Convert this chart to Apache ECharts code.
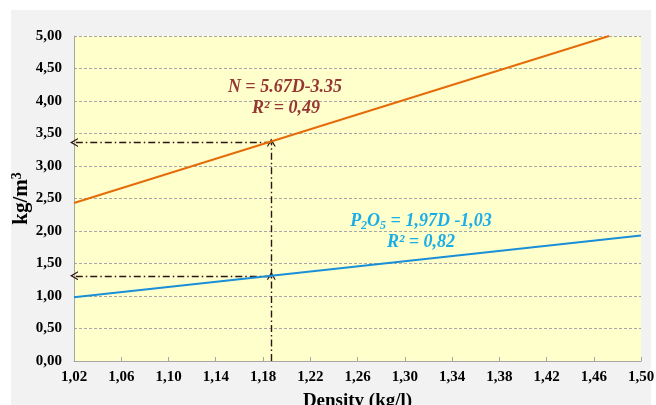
<!DOCTYPE html>
<html><head><meta charset="utf-8">
<script src="https://cdn.jsdelivr.net/npm/echarts@6/dist/echarts.min.js"></script>
<style>html,body{margin:0;padding:0;background:#fff}#c{width:656px;height:405px}</style>
</head><body><div id="c"></div>
<script>
// Data
const nLine = [[1.02, 2.43], [1.473, 5.00]];      // N = 5.67D - 3.35
const pLine = [[1.02, 0.98], [1.50, 1.93]];      // P2O5 = 1.97D - 1.03
const readD = 1.187;                             // density read-off
const readN = 3.36;
const readP = 1.31;
const xMin = 1.02, xMax = 1.50, xStep = 0.04;
const yMin = 0, yMax = 5, yStep = 0.5;

const font = '"Liberation Serif", "Times New Roman", serif';
const fmt = v => v.toFixed(2).replace('.', ',');
const chev = 'path://M0,10 L5,0 L10,10 L8.6,10 L5,3.2 L1.4,10 Z';

const chart = echarts.init(document.getElementById('c'), null, {renderer: 'canvas'});
chart.setOption({
  backgroundColor: '#ffffff',
  animation: false,
  graphic: [{
    type: 'rect', z: -10, silent: true,
    shape: {x: 11, y: 10, width: 640, height: 400},
    style: {fill: '#F2F2F2'}
  }, {
    type: 'text', z: 100,
    style: {text: 'N = 5.67D-3.35', x: 285, y: 87, align: 'center', verticalAlign: 'middle',
      font: 'italic bold 18px ' + font, fill: '#953735'}
  }, {
    type: 'text', z: 100,
    style: {text: 'R² = 0,49', x: 286, y: 108, align: 'center', verticalAlign: 'middle',
      font: 'italic bold 18px ' + font, fill: '#953735'}
  }, {
    type: 'text', z: 100,
    style: {text: '{m|P}{s|2}{m|O}{s|5}{m| = 1,97D -1,03}', x: 421, y: 221, align: 'center', verticalAlign: 'middle',
      rich: {
        m: {font: 'italic bold 18px ' + font, fill: '#1AAEE8'},
        s: {font: 'italic bold 12px ' + font, fill: '#1AAEE8', padding: [10, 0, 0, 0]}
      }}
  }, {
    type: 'text', z: 100,
    style: {text: 'R² = 0,82', x: 421, y: 242, align: 'center', verticalAlign: 'middle',
      font: 'italic bold 18px ' + font, fill: '#1AAEE8'}
  }],
  grid: {left: 74, right: 15, top: 36, bottom: 44, show: true, backgroundColor: '#FFFFCC', borderWidth: 0,
    containLabel: false, outerBoundsMode: 'none'},
  xAxis: {
    type: 'value', min: xMin, max: xMax, interval: xStep,
    name: 'Density (kg/l)', nameLocation: 'middle', nameGap: 31, nameMoveOverlap: false,
    nameTextStyle: {fontFamily: font, fontWeight: 'bold', fontSize: 19, color: '#000'},
    axisLine: {show: true, lineStyle: {color: '#A6A6A6', width: 1}},
    axisTick: {show: true, inside: true, length: 4, lineStyle: {color: '#A6A6A6'}},
    splitLine: {show: false},
    axisLabel: {formatter: fmt, fontFamily: font, fontWeight: 'bold', fontSize: 15, color: '#000', margin: 9}
  },
  yAxis: {
    type: 'value', min: yMin, max: yMax, interval: yStep,
    name: '{a|kg/m}{b|3}', nameLocation: 'middle', nameGap: 40, nameRotate: 90, nameMoveOverlap: false,
    nameTextStyle: {color: '#000', rich: {
      a: {fontFamily: font, fontWeight: 'bold', fontSize: 21, color: '#000'},
      b: {fontFamily: font, fontWeight: 'bold', fontSize: 14, color: '#000', padding: [0, 0, 10, 0]}
    }},
    axisLine: {show: true, lineStyle: {color: '#A6A6A6', width: 1}},
    axisTick: {show: false},
    splitLine: {show: true, lineStyle: {color: '#A6A6A6', type: [3, 2], width: 1}},
    axisLabel: {formatter: fmt, fontFamily: font, fontWeight: 'bold', fontSize: 15, color: '#000', margin: 12}
  },
  series: [{
    type: 'line', data: nLine, showSymbol: false, symbol: 'none', z: 5,
    lineStyle: {color: '#E46C0A', width: 2}
  }, {
    type: 'line', data: pLine, showSymbol: false, symbol: 'none', z: 5,
    lineStyle: {color: '#1A8FD8', width: 2}
  }, {
    type: 'line', data: [], z: 6,
    markLine: {
      silent: true, animation: false,
      symbol: ['none', chev], symbolSize: [9, 8],
      label: {show: false},
      lineStyle: {color: '#2E1414', width: 1.4, type: [7, 3, 1.5, 3]},
      data: [
        [{coord: [readD, 0]}, {coord: [readD, readP]}],
        [{coord: [readD, readP]}, {coord: [readD, readN]}],
        [{coord: [readD, readN]}, {coord: [xMin, readN]}],
        [{coord: [readD, readP]}, {coord: [xMin, readP]}]
      ]
    }
  }]
});
</script></body></html>
